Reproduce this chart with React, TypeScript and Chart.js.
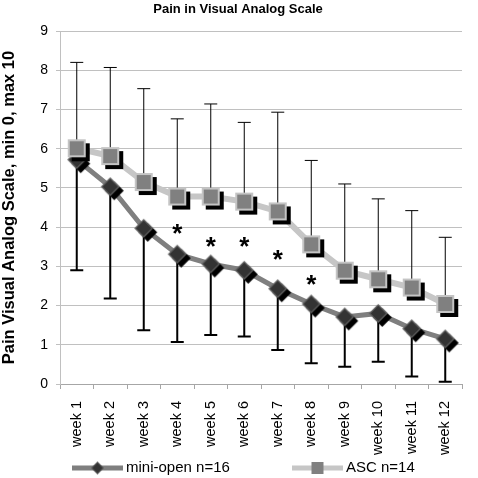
import React, { useEffect, useRef } from "react";
import { Chart, registerables } from "chart.js";

Chart.register(...registerables);

const FONT = "'Liberation Sans', Arial, Helvetica, sans-serif";

// ---------- data ----------
const chartTitle = "Pain in Visual Analog Scale";
const yAxisTitle = "Pain Visual Analog Scale, min 0, max 10";
const weeks = ["week 1", "week 2", "week 3", "week 4", "week 5", "week 6", "week 7", "week 8", "week 9", "week 10", "week 11", "week 12"];
const miniOpenLabel = "mini-open n=16";
const ascLabel = "ASC n=14";
const miniOpenMean = [5.72, 5.03, 3.97, 3.31, 3.06, 2.9, 2.43, 2.04, 1.71, 1.8, 1.41, 1.15];
const miniOpenLowerEnd = [2.9, 2.18, 1.37, 1.07, 1.25, 1.21, 0.87, 0.53, 0.44, 0.57, 0.19, 0.06];
const ascMean = [6.01, 5.81, 5.15, 4.78, 4.78, 4.65, 4.4, 3.56, 2.89, 2.67, 2.46, 2.04];
const ascUpperEnd = [8.2, 8.07, 7.53, 6.76, 7.14, 6.67, 6.93, 5.7, 5.1, 4.72, 4.42, 3.74];
const significanceLevel: (number | null)[] = [null, null, null, 3.95, 3.61, 3.61, 3.29, 2.65, null, null, null, null];
const yMin = 0;
const yMax = 9;
const yStep = 1;

// ---------- styles ----------
const miniLineColor = "#7f7f7f";
const ascLineColor = "#c6c6c6";

function makeCanvas(size: number) {
  const c = document.createElement("canvas");
  c.width = size;
  c.height = size;
  return c;
}

function squareMarker(half: number, borderW: number, fill: string, border: string, shadow: number) {
  const size = Math.ceil(2 * (half + shadow) + 2);
  const c = makeCanvas(size);
  const g = c.getContext("2d")!;
  const m = size / 2;
  if (shadow) {
    g.fillStyle = "#000";
    g.fillRect(m - half + shadow, m - half + shadow, 2 * half, 2 * half);
  }
  g.fillStyle = border;
  g.fillRect(m - half, m - half, 2 * half, 2 * half);
  g.fillStyle = fill;
  g.fillRect(m - half + borderW, m - half + borderW, 2 * (half - borderW), 2 * (half - borderW));
  return c;
}

function diamondMarker(half: number, borderW: number, fill: string, border: string, shadow: number) {
  const size = Math.ceil(2 * (half + shadow) + 2);
  const c = makeCanvas(size);
  const g = c.getContext("2d")!;
  const m = size / 2;
  const path = (dx: number, dy: number, h: number) => {
    g.beginPath();
    g.moveTo(m + dx, m + dy - h);
    g.lineTo(m + dx + h, m + dy);
    g.lineTo(m + dx, m + dy + h);
    g.lineTo(m + dx - h, m + dy);
    g.closePath();
  };
  if (shadow) {
    path(shadow, shadow, half);
    g.fillStyle = "#000";
    g.fill();
  }
  path(0, 0, half);
  g.fillStyle = border;
  g.fill();
  path(0, 0, half - borderW * 1.414);
  g.fillStyle = fill;
  g.fill();
  return c;
}

const errorBarsPlugin = {
  id: "errorBars",
  beforeDatasetsDraw(chart: any) {
    const { ctx, scales } = chart;
    const xs = scales.x;
    const ys = scales.y;
    const cap = 6.5;
    ctx.save();
    ctx.strokeStyle = "#000";
    const drawBar = (i: number, from: number, to: number, w: number) => {
      const px = xs.getPixelForValue(i);
      const p1 = ys.getPixelForValue(from);
      const p2 = ys.getPixelForValue(to);
      ctx.lineWidth = w;
      ctx.beginPath();
      ctx.moveTo(px, p1);
      ctx.lineTo(px, p2);
      ctx.moveTo(px - cap, p2);
      ctx.lineTo(px + cap, p2);
      ctx.stroke();
    };
    weeks.forEach((_, i) => {
      drawBar(i, miniOpenMean[i], miniOpenLowerEnd[i], 2);
      drawBar(i, ascMean[i], ascUpperEnd[i], 1);
    });
    ctx.restore();
  },
};

const asteriskPlugin = {
  id: "asterisks",
  afterDatasetsDraw(chart: any) {
    const { ctx, scales } = chart;
    ctx.save();
    ctx.fillStyle = "#000";
    ctx.font = `bold 26px ${FONT}`;
    ctx.textAlign = "center";
    ctx.textBaseline = "alphabetic";
    const m = ctx.measureText("*");
    const mid = (m.actualBoundingBoxAscent - m.actualBoundingBoxDescent) / 2;
    significanceLevel.forEach((v, i) => {
      if (v == null) return;
      const px = scales.x.getPixelForValue(i);
      const py = scales.y.getPixelForValue(v);
      ctx.fillText("*", px, py + mid);
    });
    ctx.restore();
  },
};

export default function App() {
  const ref = useRef<HTMLCanvasElement | null>(null);

  useEffect(() => {
    document.body.style.margin = "0";
    const canvas = ref.current!;
    Chart.defaults.font.family = FONT;

    const diamond = diamondMarker(9.5, 1.3, "#333333", "#606060", 4);
    const square = squareMarker(9, 2, "#808080", "#c4c4c4", 4);
    const legendDiamond = diamondMarker(6.5, 1, "#333333", "#555555", 0);
    const legendSquare = squareMarker(6, 0.01, "#808080", "#808080", 0);

    const legendPlugin = {
      id: "customLegend",
      afterDraw(chart: any) {
        const { ctx } = chart;
        const y = 468;
        const items = [
          { ds: 0, start: 72, marker: legendDiamond },
          { ds: 1, start: 292, marker: legendSquare },
        ];
        ctx.save();
        items.forEach((it) => {
          const ds = chart.data.datasets[it.ds];
          ctx.strokeStyle = ds.borderColor;
          ctx.lineWidth = 5;
          ctx.beginPath();
          ctx.moveTo(it.start, y);
          ctx.lineTo(it.start + 51, y);
          ctx.stroke();
          const mx = it.start + 25.5;
          ctx.drawImage(it.marker, mx - it.marker.width / 2, y - it.marker.height / 2);
          ctx.fillStyle = "#000";
          ctx.font = `15px ${FONT}`;
          ctx.textAlign = "left";
          ctx.textBaseline = "middle";
          ctx.fillText(ds.label, it.start + 54, y);
        });
        ctx.restore();
      },
    };

    const chart = new Chart(canvas, {
      type: "line",
      data: {
        labels: weeks,
        datasets: [
          {
            label: miniOpenLabel,
            data: miniOpenMean,
            borderColor: miniLineColor,
            backgroundColor: miniLineColor,
            borderWidth: 5,
            pointStyle: diamond as any,
            pointRadius: 10,
            pointHoverRadius: 10,
            tension: 0,
            fill: false,
            order: 1,
          },
          {
            label: ascLabel,
            data: ascMean,
            borderColor: ascLineColor,
            backgroundColor: ascLineColor,
            borderWidth: 6,
            pointStyle: square as any,
            pointRadius: 10,
            pointHoverRadius: 10,
            tension: 0,
            fill: false,
            order: 0,
          },
        ],
      },
      options: {
        responsive: false,
        animation: false,
        events: [],
        layout: { padding: { left: 0, right: 2, top: 0, bottom: 0 } },
        plugins: {
          legend: { display: false },
          tooltip: { enabled: false },
          title: {
            display: true,
            text: chartTitle,
            color: "#000",
            font: { size: 13, weight: "bold" },
            padding: { top: 2, bottom: 13.4 },
          },
        },
        scales: {
          x: {
            type: "category",
            offset: true,
            grid: { offset: true, drawOnChartArea: false, tickLength: 5, color: "#a6a6a6" },
            border: { color: "#a6a6a6" },
            ticks: { minRotation: 90, maxRotation: 90, autoSkip: false, padding: 12, font: { size: 14.5 }, color: "#000" },
            afterFit: (s: any) => {
              s.height = 94;
            },
          },
          y: {
            min: yMin,
            max: yMax,
            ticks: { stepSize: yStep, padding: 8, font: { size: 14 }, color: "#000" },
            grid: { color: "#c0c0c0", tickLength: 4 },
            border: { color: "#c0c0c0" },
            title: {
              display: true,
              text: yAxisTitle,
              color: "#000",
              font: { size: 16.5, weight: "bold" },
              padding: { top: 0, bottom: 0 },
            },
            afterFit: (s: any) => {
              s.width = 60;
            },
          },
        },
      },
      plugins: [errorBarsPlugin, asteriskPlugin, legendPlugin],
    });

    return () => chart.destroy();
  }, []);

  return (
    <div style={{ width: 478, height: 478 }}>
      <canvas ref={ref} width={478} height={478} style={{ display: "block" }} />
    </div>
  );
}
